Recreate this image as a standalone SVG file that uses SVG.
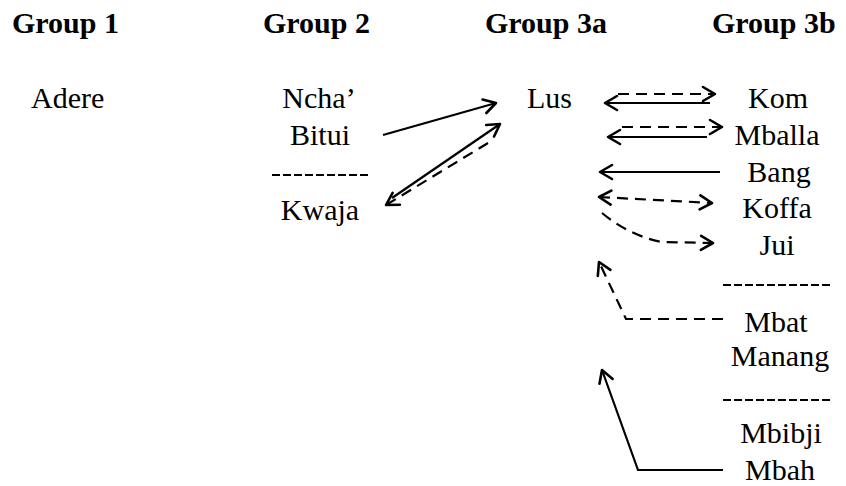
<svg xmlns="http://www.w3.org/2000/svg" width="846" height="486" viewBox="0 0 846 486">
<style>
.h{font-family:"Liberation Serif","Times New Roman",serif;font-weight:bold;font-size:30px;fill:#000}
.t{font-family:"Liberation Serif","Times New Roman",serif;font-size:30px;fill:#000}
.c{text-anchor:middle}
.ln{stroke:#000;stroke-width:2.2;fill:none}
.ds{stroke:#000;stroke-width:2.2;fill:none;stroke-dasharray:11 7}
.sep{stroke:#000;stroke-width:2;stroke-dasharray:8 3}
</style>
<defs>
<marker id="ah" viewBox="-14 -9 16 18" markerWidth="16" markerHeight="18" refX="0" refY="0" orient="auto-start-reverse" markerUnits="userSpaceOnUse">
<path d="M-12,-7 L0,0 L-12,7" fill="none" stroke="#000" stroke-width="2.6" stroke-linecap="round" stroke-linejoin="round"/>
</marker>
</defs>
<g id="headers">
<text class="h" x="12" y="33">Group 1</text>
<text class="h" x="263" y="33">Group 2</text>
<text class="h" x="485" y="33">Group 3a</text>
<text class="h" x="712" y="33">Group 3b</text>
</g>
<g id="adere"><text class="t" x="31" y="108">Adere</text></g>
<g id="ncha"><text class="t c" x="319" y="108">Ncha’</text></g>
<g id="bitui"><text class="t c" x="320" y="145">Bitui</text></g>
<g id="sep2"><line class="sep" x1="272" y1="175" x2="368" y2="175"/></g>
<g id="kwaja"><text class="t c" x="320" y="220">Kwaja</text></g>
<g id="lus"><text class="t" x="527" y="108">Lus</text></g>
<g id="kom"><text class="t c" x="778" y="108">Kom</text></g>
<g id="mballa"><text class="t c" x="777" y="145">Mballa</text></g>
<g id="bang"><text class="t c" x="779" y="182">Bang</text></g>
<g id="koffa"><text class="t c" x="777" y="218">Koffa</text></g>
<g id="jui"><text class="t c" x="777" y="255">Jui</text></g>
<g id="sep3a"><line class="sep" x1="723" y1="285" x2="830" y2="285"/></g>
<g id="mbat"><text class="t c" x="776" y="332">Mbat</text></g>
<g id="manang"><text class="t c" x="780" y="366">Manang</text></g>
<g id="sep3b"><line class="sep" x1="723" y1="400" x2="830" y2="400"/></g>
<g id="mbibji"><text class="t c" x="781" y="443">Mbibji</text></g>
<g id="mbah"><text class="t c" x="780" y="480">Mbah</text></g>
<g id="connectors">
<path class="ln" d="M383,135 L496,103" marker-end="url(#ah)"/>
<path class="ln" d="M392,198 L500,124" marker-end="url(#ah)"/>
<path class="ds" d="M488,143 L386,205" marker-end="url(#ah)"/>
<path class="ds" d="M618,94 L715,94" marker-end="url(#ah)"/>
<path class="ln" d="M710,103 L605,103" marker-end="url(#ah)"/>
<path class="ds" d="M622,127 L722,127" marker-end="url(#ah)"/>
<path class="ln" d="M707,137 L608,137" marker-end="url(#ah)"/>
<path class="ln" d="M720,172 L600,172" marker-end="url(#ah)"/>
<path class="ds" d="M599,197 L712,203" marker-start="url(#ah)" marker-end="url(#ah)"/>
<path class="ds" d="M602,213 Q630,236 662,242 L713,243" marker-end="url(#ah)"/>
<path class="ds" d="M723,319 L626,319 L599,262" marker-end="url(#ah)"/>
<path class="ln" d="M723,470 L638,470 L602,370" marker-end="url(#ah)"/>
</g>
</svg>
